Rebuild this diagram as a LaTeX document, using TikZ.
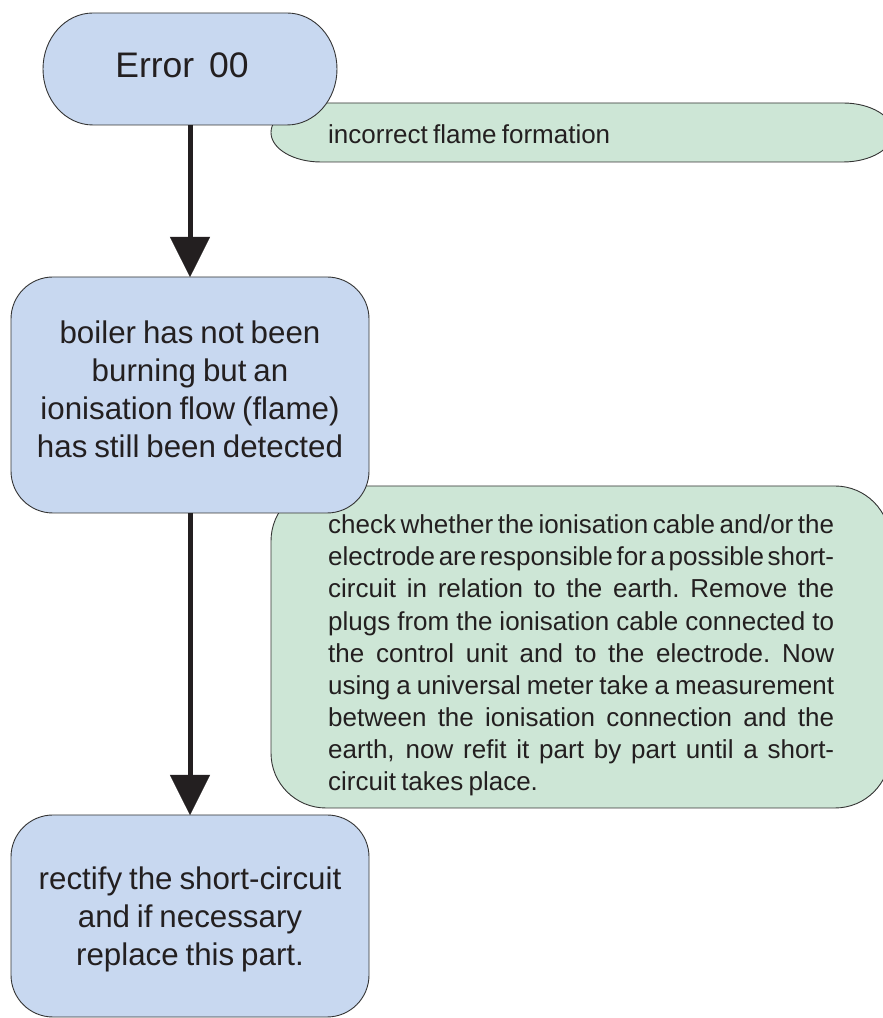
\documentclass[tikz,border=0pt]{standalone}
\usepackage{fontspec}
\setmainfont{Liberation Sans}
\usetikzlibrary{arrows.meta,calc}

\definecolor{boxblue}{RGB}{200,216,240}
\definecolor{notegreen}{RGB}{205,230,214}
\definecolor{ink}{RGB}{35,31,32}
\definecolor{rim}{RGB}{52,52,52}

\pgfdeclarelayer{background}
\pgfsetlayers{background,main}

% Outline of a box with elliptical corners, laid over the frame of a named node
% #1 node, #2 horizontal corner radius, #3 vertical corner radius, #4 style
\newcommand\softbox[4]{%
  \path[#4] ([xshift=#2]#1.north west) -- ([xshift=-#2]#1.north east)
    arc[start angle=90,end angle=0,x radius=#2,y radius=#3]
    -- ([yshift=#3]#1.south east)
    arc[start angle=0,end angle=-90,x radius=#2,y radius=#3]
    -- ([xshift=#2]#1.south west)
    arc[start angle=270,end angle=180,x radius=#2,y radius=#3]
    -- ([yshift=-#3]#1.north west)
    arc[start angle=180,end angle=90,x radius=#2,y radius=#3]
    -- cycle;}

\newcommand\notefont{\fontsize{26}{32.15}\selectfont
  \spaceskip=0.2em plus 3em minus 0.12em\xspaceskip=\spaceskip}
\newcommand\bigfont{\fontsize{31.3}{37.9}\selectfont
  \spaceskip=0.22em plus 0.1em minus 0.05em\xspaceskip=\spaceskip}
\newcommand\jline[1]{\makebox[506pt][s]{#1}}

\tikzset{
  frame/.style={shape=rectangle, draw=none, inner sep=0pt, outer sep=0pt},
  stepfill/.style={fill=boxblue, draw=rim, line width=0.9pt},
  notefill/.style={fill=notegreen, draw=rim, line width=0.9pt},
  flow/.style={draw=ink, line width=5pt,
    -{Triangle[width=40pt,length=40pt,line width=0.1pt]}},
  bigtext/.style={text=ink, align=center, font=\bigfont, inner sep=0pt},
  notetext/.style={text=ink, align=left, font=\notefont, inner sep=0pt},
}

\begin{document}
\begin{tikzpicture}[x=1pt,y=1pt]
\useasboundingbox (0,0) rectangle (883,1018);

% frames of the boxes
\node[frame, minimum width=294pt, minimum height=112pt] (err)   at (190,949)   {};
\node[frame, minimum width=622pt, minimum height=59pt]  (note1) at (582,885.5) {};
\node[frame, minimum width=358pt, minimum height=236pt] (boil)  at (190,623)   {};
\node[frame, minimum width=619pt, minimum height=322pt] (note2) at (580.5,371)  {};
\node[frame, minimum width=358pt, minimum height=202pt] (fix)   at (190,102)   {};

% filled outlines, back to front
\begin{pgfonlayer}{background}
  \fill[white] (0,0) rectangle (883,1018);
  \softbox{note1}{50pt}{29.5pt}{notefill}
  \softbox{err}{50pt}{56pt}{stepfill}
  \softbox{note2}{55pt}{55pt}{notefill}
  \softbox{boil}{42pt}{42pt}{stepfill}
  \softbox{fix}{42pt}{42pt}{stepfill}
\end{pgfonlayer}

% texts
\node[text=ink, inner sep=0pt, font=\fontsize{35.5}{42}\selectfont, anchor=base]
  (errtext) at ($(err.center)+(-8,-9)$) {Error\hspace{0.42em}00};
\node[notetext, anchor=base west] (note1text) at ($(note1.west)+(57,-11.5)$)
  {incorrect flame formation};
\node[bigtext] (boiltext) at ($(boil.center)+(0,6)$)
  {boiler has not been\\burning but an\\ionisation flow (flame)\\has still been detected};
\node[notetext, anchor=west] (note2text) at ($(note2.west)+(57,-8.5)$)
  {\jline{check whether the ionisation cable and/or the}\\
   \jline{electrode are responsible for a possible short-}\\
   \jline{circuit in relation to the earth. Remove the}\\
   \jline{plugs from the ionisation cable connected to}\\
   \jline{the control unit and to the electrode. Now}\\
   \jline{using a universal meter take a measurement}\\
   \jline{between the ionisation connection and the}\\
   \jline{earth, now refit it part by part until a short-}\\
   circuit takes place.};
\node[bigtext] (fixtext) at ($(fix.center)+(0,-3.5)$)
  {rectify the short-circuit\\and if necessary\\replace this part.};

% connectors
\draw[flow] (err.south) -- (boil.north);
\draw[flow] (boil.south) -- (fix.north);
\end{tikzpicture}
\end{document}
